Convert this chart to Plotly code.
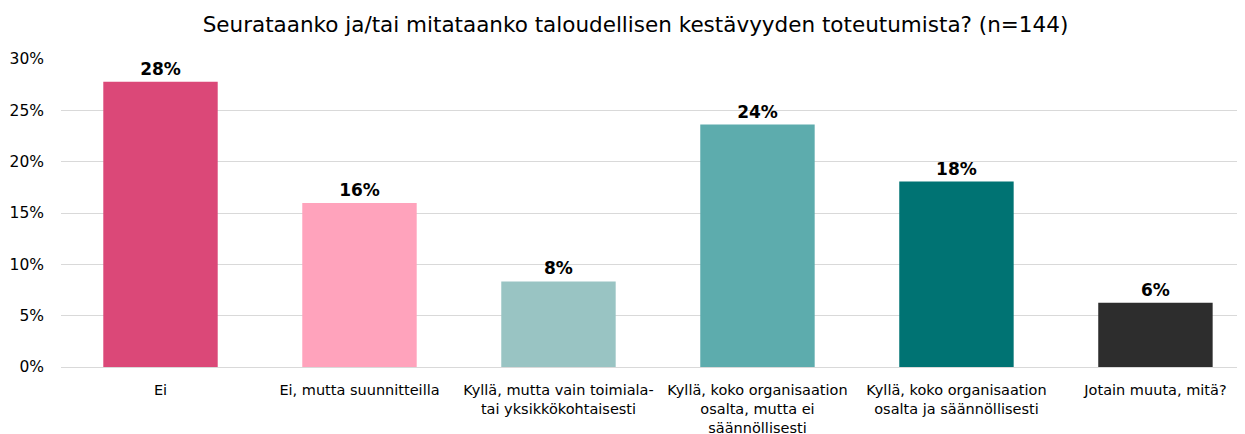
import plotly.graph_objects as go

categories = [
    "Ei",
    "Ei, mutta suunnitteilla",
    "Kyllä, mutta vain toimiala-<br>tai yksikkökohtaisesti",
    "Kyllä, koko organisaation<br>osalta, mutta ei<br>säännöllisesti",
    "Kyllä, koko organisaation<br>osalta ja säännöllisesti",
    "Jotain muuta, mitä?",
]
values = [0.2778, 0.1597, 0.0833, 0.2361, 0.1806, 0.0625]
colors = ["#DB4878", "#FFA3BC", "#99C4C3", "#5DACAD", "#007373", "#2D2D2D"]
title = "Seurataanko ja/tai mitataanko taloudellisen kestävyyden toteutumista? (n=144)"

font_family = "Tahoma, 'DejaVu Sans', Verdana, sans-serif"

fig = go.Figure(
    go.Bar(
        x=list(range(len(categories))),
        y=values,
        marker=dict(color=colors, line=dict(width=0)),
        width=0.575,
        texttemplate="<b>%{y:.0%}</b>",
        textposition="outside",
        textfont=dict(size=17, color="#000000", family=font_family),
        cliponaxis=False,
    )
)

fig.update_layout(
    width=1245,
    height=434,
    margin=dict(l=53, r=8, t=51, b=75, autoexpand=False),
    paper_bgcolor="white",
    plot_bgcolor="white",
    font=dict(family=font_family, color="#000000"),
    title=dict(
        text=title,
        x=0.504,
        xanchor="center",
        y=0.963,
        yanchor="middle",
        font=dict(size=21.5, color="#000000", family=font_family),
    ),
    showlegend=False,
)
fig.update_xaxes(
    tickmode="array",
    tickvals=list(range(len(categories))),
    ticktext=categories,
    range=[-0.5, 5.45],
    tickfont=dict(size=14.5, color="#000000"),
    showline=True,
    linecolor="#D9D9D9",
    linewidth=1,
    ticks="",
    ticklabelstandoff=10,
    automargin=False,
)
fig.update_yaxes(
    range=[0, 0.30],
    dtick=0.05,
    tickformat=".0%",
    tickfont=dict(size=15.5, color="#000000"),
    showgrid=True,
    gridcolor="#D9D9D9",
    gridwidth=1,
    zeroline=False,
    ticks="",
    ticklabelstandoff=16,
    automargin=False,
)

fig.write_html("out.html")
